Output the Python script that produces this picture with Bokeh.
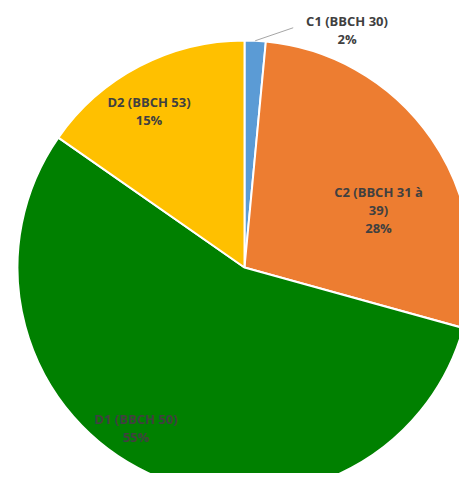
import math
from bokeh.plotting import figure
from bokeh.models import ColumnDataSource, Range1d
from bokeh.core.properties import value
from bokeh.embed import file_html
from bokeh.resources import INLINE

# ---- data ----
categories = ["C1 (BBCH 30)", "C2 (BBCH 31 à\n39)", "D1 (BBCH 50)", "D2 (BBCH 53)"]
shares = [1.5, 27.8, 55.4, 15.3]
pct_labels = ["2%", "28%", "55%", "15%"]
colors = ["#5B9BD5", "#ED7D31", "#008000", "#FFC000"]

W, H = 459, 473
CX, CY, R = 244, 206, 227

p = figure(width=W, height=H, output_backend="svg", toolbar_location=None,
           x_range=Range1d(0, W), y_range=Range1d(0, H), min_border=0)
p.axis.visible = False
p.grid.visible = False
p.outline_line_color = None
p.background_fill_color = "white"
p.border_fill_color = "white"

total = sum(shares)
starts, ends, mids = [], [], []
acc = 0.0
for s in shares:
    a0 = math.pi / 2 - 2 * math.pi * acc / total
    acc += s
    a1 = math.pi / 2 - 2 * math.pi * acc / total
    starts.append(a0)
    ends.append(a1)
    mids.append((a0 + a1) / 2)

src = ColumnDataSource(dict(start=starts, end=ends, color=colors))
p.wedge(x=CX, y=CY, radius=R, start_angle="start", end_angle="end",
        direction="clock", fill_color="color", line_color="white", line_width=2,
        source=src)

# label block placement (radius, angle in degrees)
label_polar = [(258.7, 66.65), (146.0, 23.4), (194.1, 236.0), (183.3, 121.4)]
line_h = 18

xs, ys, ts = [], [], []
for cat, pct, (lr, la) in zip(categories, pct_labels, label_polar):
    lines = cat.split("\n") + [pct]
    bx = CX + lr * math.cos(math.radians(la))
    by = CY + lr * math.sin(math.radians(la))
    n = len(lines)
    for i, t in enumerate(lines):
        xs.append(bx)
        ys.append(by + (n - 1) / 2 * line_h - i * line_h)
        ts.append(t)

p.text(x=xs, y=ys, text=ts, text_align="center", text_baseline="middle",
       text_font=value("Open Sans"), text_font_style="bold",
       text_font_size="13px", text_color="#404040")

# leader line for C1
m = mids[0]
lx0 = CX + R * math.cos(m)
ly0 = CY + R * math.sin(m)
p.line(x=[lx0, lx0 + 38], y=[ly0, ly0 + 13], line_color="#A6A6A6", line_width=1)

open("out.html", "w").write(file_html(p, INLINE))
